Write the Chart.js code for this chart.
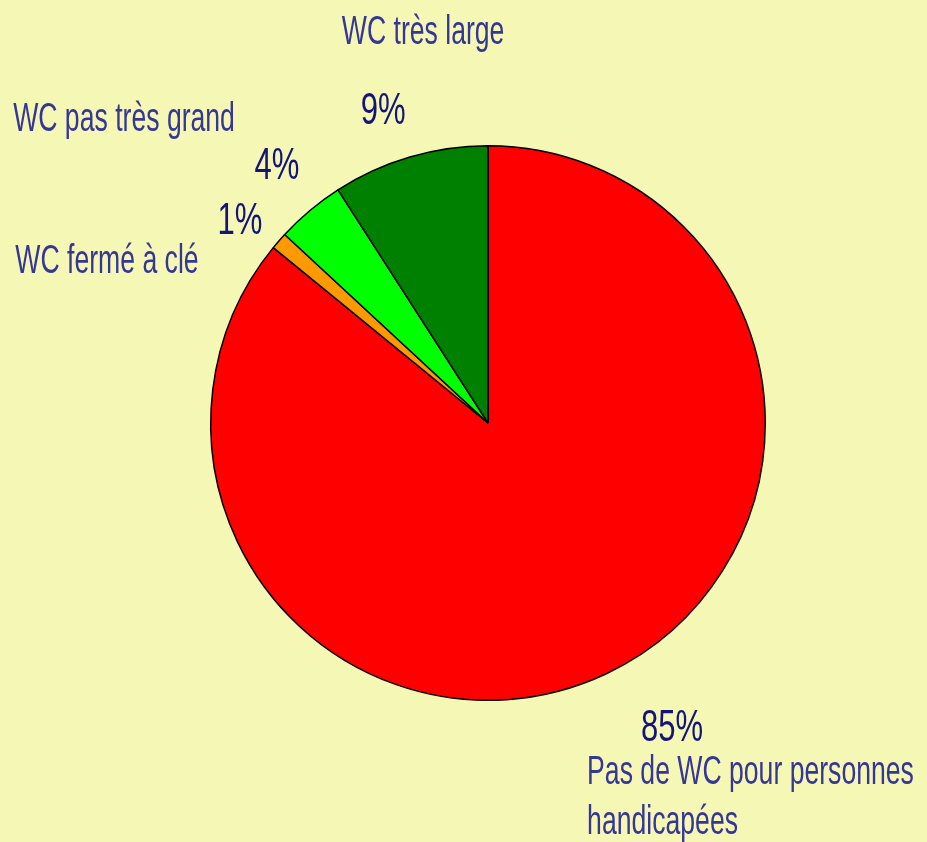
<!DOCTYPE html>
<html lang="fr">

<head>
    <meta charset="UTF-8">
    <title>WC pour personnes handicapées</title>
    <script src="https://cdn.jsdelivr.net/npm/chart.js"></script>
    <style>
        html, body {
            margin: 0;
            padding: 0;
            background: #F5F7B4;
        }

        .wrap {
            position: relative;
            width: 927px;
            height: 842px;
        }
    </style>
</head>

<body>
    <div class="wrap">
        <canvas id="pieChart"></canvas>
    </div>

    <script>
        // data (clockwise from 12 o'clock)
        const categories = [
            ["Pas de WC pour personnes", "handicapées"],
            ["WC fermé à clé"],
            ["WC pas très grand"],
            ["WC très large"]
        ];
        const shares = [85.9, 1.0, 4.0, 9.1];
        const shareLabels = ["85%", "1%", "4%", "9%"];
        const sliceColors = ["#FF0000", "#FF9900", "#00FF00", "#008000"];

        // label placement (layout only)
        const pctNudge = [[46, 14], [-5, 10], [-4, -9], [-14, -2]];
        const catOffset = [[-85, 56], [-133, 52], [-153, -36], [40, -68]];
        const catAlign = ["left", "center", "center", "center"];

        const labelPlugin = {
            id: "sliceLabels",
            afterDatasetsDraw(chart) {
                const ctx = chart.ctx;
                const meta = chart.getDatasetMeta(0);
                meta.data.forEach((arc, i) => {
                    const p = arc.getProps(["x", "y", "startAngle", "endAngle", "outerRadius"], true);
                    const mid = (p.startAngle + p.endAngle) / 2;
                    const r = p.outerRadius + 45;
                    const px = p.x + Math.cos(mid) * r + pctNudge[i][0];
                    const py = p.y + Math.sin(mid) * r + pctNudge[i][1];

                    ctx.save();
                    ctx.fillStyle = "#14147A";
                    ctx.font = "45px 'Liberation Sans', Arial, sans-serif";
                    ctx.textAlign = "center";
                    ctx.textBaseline = "middle";
                    ctx.translate(px, py);
                    ctx.scale(0.69, 1);
                    ctx.fillText(shareLabels[i], 0, 0);
                    ctx.restore();

                    ctx.save();
                    ctx.fillStyle = "#363696";
                    ctx.font = "40px 'Liberation Sans', Arial, sans-serif";
                    ctx.textAlign = catAlign[i];
                    ctx.textBaseline = "alphabetic";
                    categories[i].forEach((line, k) => {
                        ctx.save();
                        ctx.translate(px + catOffset[i][0], py + catOffset[i][1] + k * 50);
                        ctx.scale(0.665, 1);
                        ctx.fillText(line, 0, 0);
                        ctx.restore();
                    });
                    ctx.restore();
                });
            }
        };

        new Chart(document.getElementById("pieChart"), {
            type: "pie",
            data: {
                labels: categories.map(c => c.join(" ")),
                datasets: [{
                    data: shares,
                    backgroundColor: sliceColors,
                    borderColor: "#000",
                    borderWidth: 1.5
                }]
            },
            options: {
                responsive: true,
                maintainAspectRatio: false,
                animation: false,
                layout: {
                    padding: { top: 145, bottom: 141, left: 210, right: 161 }
                },
                plugins: {
                    legend: { display: false },
                    tooltip: { enabled: false }
                }
            },
            plugins: [labelPlugin]
        });
    </script>

</body>

</html>
